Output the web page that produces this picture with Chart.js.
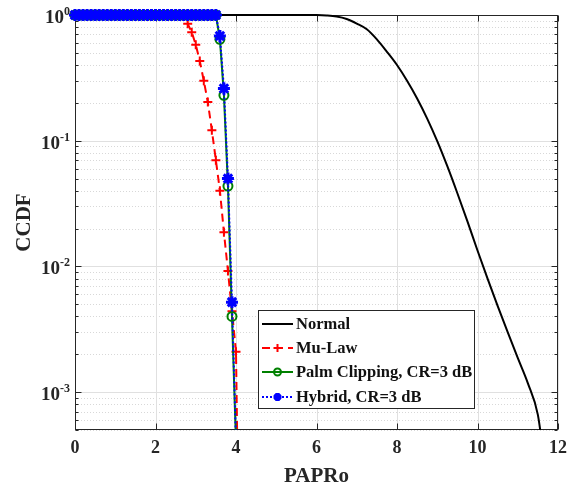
<!DOCTYPE html>
<html>
<head>
<meta charset="utf-8">
<script src="https://cdn.jsdelivr.net/npm/chart.js@4/dist/chart.umd.min.js"></script>
<style>
  body { margin: 0; background: #fff; }
  #wrap { width: 577px; height: 493px; }
</style>
</head>
<body>
<div id="wrap"><canvas id="ccdfChart" width="577" height="493"></canvas></div>
<script>
// PAPRo grid (dB) shared by the three compressed schemes
const paprGrid = [
  0, 0.1, 0.2, 0.3, 0.4, 0.5, 0.6, 0.7, 0.8, 0.9,
  1.0, 1.1, 1.2, 1.3, 1.4, 1.5, 1.6, 1.7, 1.8, 1.9,
  2.0, 2.1, 2.2, 2.3, 2.4, 2.5, 2.6, 2.7, 2.8, 2.9,
  3.0, 3.1, 3.2, 3.3, 3.4, 3.5, 3.6, 3.7, 3.8, 3.9,
  4.0, 4.1
];

const muLawCcdf = [
  1, 1, 1, 1, 1, 1, 1, 1, 1, 1,
  1, 1, 1, 1, 1, 1, 1, 1, 1, 1,
  1, 1, 1, 1, 1, 1, 1, 1, 0.85, 0.73,
  0.58, 0.43, 0.30, 0.203, 0.121, 0.070, 0.040, 0.0187, 0.0092, 0.0044,
  0.0021, 0.00001
];

const palmCcdf = [
  1, 1, 1, 1, 1, 1, 1, 1, 1, 1,
  1, 1, 1, 1, 1, 1, 1, 1, 1, 1,
  1, 1, 1, 1, 1, 1, 1, 1, 1, 1,
  1, 1, 1, 1, 1, 1, 0.64, 0.23, 0.0436, 0.0040,
  0.0004
];

const hybridCcdf = [
  1, 1, 1, 1, 1, 1, 1, 1, 1, 1,
  1, 1, 1, 1, 1, 1, 1, 1, 1, 1,
  1, 1, 1, 1, 1, 1, 1, 1, 1, 1,
  1, 1, 1, 1, 1, 1, 0.68, 0.26, 0.050, 0.0052,
  0.0004
];

// original OFDM signal
const normalPapr = [
  0, 5.5, 6.0, 6.25, 6.5, 6.75, 7.0, 7.25, 7.5, 7.75,
  8.0, 8.25, 8.5, 8.75, 9.0, 9.25, 9.5, 9.75, 10.0, 10.25,
  10.5, 10.75, 11.0, 11.25, 11.5, 11.65
];
const normalCcdf = [
  1, 1, 0.998, 0.991, 0.973, 0.93, 0.855, 0.77, 0.64, 0.51,
  0.40, 0.30, 0.217, 0.150, 0.0993, 0.0627, 0.0382, 0.0228, 0.0134, 0.0080,
  0.00486, 0.0030, 0.00187, 0.00118, 0.00066, 0.0003
];

const seriesNames = ['Normal', 'Mu-Law', 'Palm Clipping, CR=3 dB', 'Hybrid, CR=3 dB'];

const xTicks = [0, 2, 4, 6, 8, 10, 12];
const yDecades = [1, 0.1, 0.01, 0.001];
const yExponents = ['0', '-1', '-2', '-3'];
const yMin = 5e-4, yMax = 1;

const FONT = '"Liberation Serif", "Times New Roman", serif';
const AXIS = '#262626';

const toPoints = (xs, ys) => ys.map((v, i) => ({ x: xs[i], y: v }));

function strokeLine(ctx, x1, y1, x2, y2) {
  ctx.beginPath();
  ctx.moveTo(x1, y1);
  ctx.lineTo(x2, y2);
  ctx.stroke();
}

function drawMarker(ctx, style, cx, cy, r) {
  ctx.beginPath();
  if (style === 'circle') {
    ctx.arc(cx, cy, r, 0, Math.PI * 2);
  } else if (style === 'cross') {
    ctx.moveTo(cx - r, cy); ctx.lineTo(cx + r, cy);
    ctx.moveTo(cx, cy - r); ctx.lineTo(cx, cy + r);
  } else if (style === 'star') {
    ctx.moveTo(cx - r, cy); ctx.lineTo(cx + r, cy);
    ctx.moveTo(cx, cy - r); ctx.lineTo(cx, cy + r);
    const d = r * 0.707;
    ctx.moveTo(cx - d, cy - d); ctx.lineTo(cx + d, cy + d);
    ctx.moveTo(cx - d, cy + d); ctx.lineTo(cx + d, cy - d);
  }
  ctx.stroke();
}

// grid, box and ticks in the MATLAB way
const axesFrame = {
  id: 'axesFrame',
  beforeDatasetsDraw(chart) {
    const { ctx, chartArea: a, scales: { x, y } } = chart;
    ctx.save();
    ctx.lineWidth = 1;

    // minor grid (dotted)
    ctx.strokeStyle = '#d8d8d8';
    ctx.setLineDash([1, 2]);
    const minors = [];
    for (let d = -4; d < 0; d++) {
      for (let m = 2; m <= 9; m++) {
        const v = m * Math.pow(10, d);
        if (v >= yMin && v < yMax) minors.push(v);
      }
    }
    minors.forEach(v => {
      const py = Math.round(y.getPixelForValue(v)) + 0.5;
      strokeLine(ctx, a.left, py, a.right, py);
    });

    // major grid
    ctx.setLineDash([]);
    ctx.strokeStyle = '#e0e0e0';
    xTicks.forEach(v => {
      const px = Math.round(x.getPixelForValue(v)) + 0.5;
      strokeLine(ctx, px, a.top, px, a.bottom);
    });
    yDecades.forEach(v => {
      const py = Math.round(y.getPixelForValue(v)) + 0.5;
      strokeLine(ctx, a.left, py, a.right, py);
    });

    // box
    ctx.strokeStyle = AXIS;
    const L = Math.round(a.left) + 0.5, R = Math.round(a.right) - 0.5;
    const T = Math.round(a.top) + 0.5, B = Math.round(a.bottom) - 0.5;
    ctx.strokeRect(L, T, R - L, B - T);

    // tick marks pointing inward
    xTicks.forEach(v => {
      const px = Math.round(x.getPixelForValue(v)) + 0.5;
      strokeLine(ctx, px, B, px, B - 6);
      strokeLine(ctx, px, T, px, T + 6);
    });
    yDecades.forEach(v => {
      const py = Math.round(y.getPixelForValue(v)) + 0.5;
      strokeLine(ctx, L, py, L + 6, py);
      strokeLine(ctx, R, py, R - 6, py);
    });
    minors.forEach(v => {
      const py = Math.round(y.getPixelForValue(v)) + 0.5;
      strokeLine(ctx, L, py, L + 3, py);
      strokeLine(ctx, R, py, R - 3, py);
    });

    // y tick labels 10^n
    ctx.fillStyle = AXIS;
    ctx.textAlign = 'right';
    yDecades.forEach((v, i) => {
      const py = y.getPixelForValue(v);
      const rx = a.left - 5;
      ctx.font = 'bold 12px ' + FONT;
      ctx.textBaseline = 'alphabetic';
      const supW = ctx.measureText(yExponents[i]).width;
      ctx.fillText(yExponents[i], rx, py);
      ctx.font = 'bold 19px ' + FONT;
      ctx.textBaseline = 'middle';
      ctx.fillText('10', rx - supW, py + 3);
    });
    ctx.restore();
  },

  afterDatasetsDraw(chart) {
    const { ctx } = chart;
    const box = { left: 258, top: 310, right: 474, bottom: 408 };
    ctx.save();
    ctx.fillStyle = '#fff';
    ctx.fillRect(box.left, box.top, box.right - box.left, box.bottom - box.top);
    ctx.strokeStyle = AXIS;
    ctx.lineWidth = 1;
    ctx.strokeRect(box.left + 0.5, box.top + 0.5, box.right - box.left, box.bottom - box.top);

    const rows = [324, 348, 372, 397];
    chart.data.datasets.forEach((ds, i) => {
      const cy = rows[i];
      ctx.strokeStyle = ds.borderColor;
      ctx.lineWidth = ds.borderWidth;
      ctx.setLineDash(ds.borderDash || []);
      strokeLine(ctx, 262, cy, 293, cy);
      ctx.setLineDash([]);
      if (ds.pointRadius > 0) {
        ctx.strokeStyle = ds.pointBorderColor;
        ctx.lineWidth = ds.pointBorderWidth;
        drawMarker(ctx, ds.pointStyle, 277.5, cy, ds.pointStyle === 'circle' ? 3.5 : 4);
      }
      ctx.fillStyle = '#111';
      ctx.font = 'bold 16.5px ' + FONT;
      ctx.textAlign = 'left';
      ctx.textBaseline = 'middle';
      ctx.fillText(seriesNames[i], 296, cy + 1);
    });
    ctx.restore();
  }
};

const markerClip = { left: 8, top: 8, right: 0, bottom: 0 };

new Chart(document.getElementById('ccdfChart').getContext('2d'), {
  type: 'line',
  data: {
    datasets: [
      {
        label: seriesNames[0],
        data: toPoints(normalPapr, normalCcdf),
        borderColor: '#000',
        borderWidth: 2,
        pointRadius: 0,
        cubicInterpolationMode: 'monotone',
        clip: { left: 0, top: 2, right: 0, bottom: 0 },
        order: 4
      },
      {
        label: seriesNames[1],
        data: toPoints(paprGrid, muLawCcdf),
        borderColor: '#ff0000',
        borderWidth: 2,
        borderDash: [8, 5],
        pointStyle: 'cross',
        pointRadius: 4.5,
        pointBorderColor: '#ff0000',
        pointBorderWidth: 2,
        pointBackgroundColor: '#ff0000',
        clip: markerClip,
        order: 3
      },
      {
        label: seriesNames[2],
        data: toPoints(paprGrid, palmCcdf),
        borderColor: '#008000',
        borderWidth: 2,
        pointStyle: 'circle',
        pointRadius: 4.5,
        pointBorderColor: '#008000',
        pointBorderWidth: 2,
        pointBackgroundColor: 'rgba(0,0,0,0)',
        clip: markerClip,
        order: 2
      },
      {
        label: seriesNames[3],
        data: toPoints(paprGrid, hybridCcdf),
        borderColor: '#0000ff',
        borderWidth: 2,
        borderDash: [2, 2],
        pointStyle: 'star',
        pointRadius: 6,
        pointBorderColor: '#0000ff',
        pointBorderWidth: 3,
        pointBackgroundColor: '#0000ff',
        clip: markerClip,
        order: 1
      }
    ]
  },
  options: {
    responsive: false,
    devicePixelRatio: 1,
    animation: false,
    events: [],
    layout: { padding: { top: 15, right: 19, left: 0, bottom: 0 } },
    plugins: {
      legend: { display: false },
      tooltip: { enabled: false }
    },
    scales: {
      x: {
        type: 'linear',
        min: 0,
        max: 12,
        afterBuildTicks: scale => { scale.ticks = xTicks.map(v => ({ value: v })); },
        grid: { display: false, drawTicks: false },
        border: { display: false },
        ticks: {
          color: AXIS,
          padding: 8,
          maxRotation: 0,
          font: { family: FONT, size: 18, weight: 'bold' }
        },
        title: {
          display: true,
          text: 'PAPRo',
          color: AXIS,
          padding: { top: 0, bottom: 4 },
          font: { family: FONT, size: 21, weight: 'bold' }
        },
        afterFit: scale => { scale.height = 63; }
      },
      y: {
        type: 'logarithmic',
        min: yMin,
        max: yMax,
        grid: { display: false, drawTicks: false },
        border: { display: false },
        ticks: { display: false },
        title: {
          display: true,
          text: 'CCDF',
          color: AXIS,
          padding: { top: 12, bottom: 0 },
          font: { family: FONT, size: 21, weight: 'bold' }
        },
        afterFit: scale => { scale.width = 75; }
      }
    }
  },
  plugins: [axesFrame]
});
</script>
</body>
</html>
